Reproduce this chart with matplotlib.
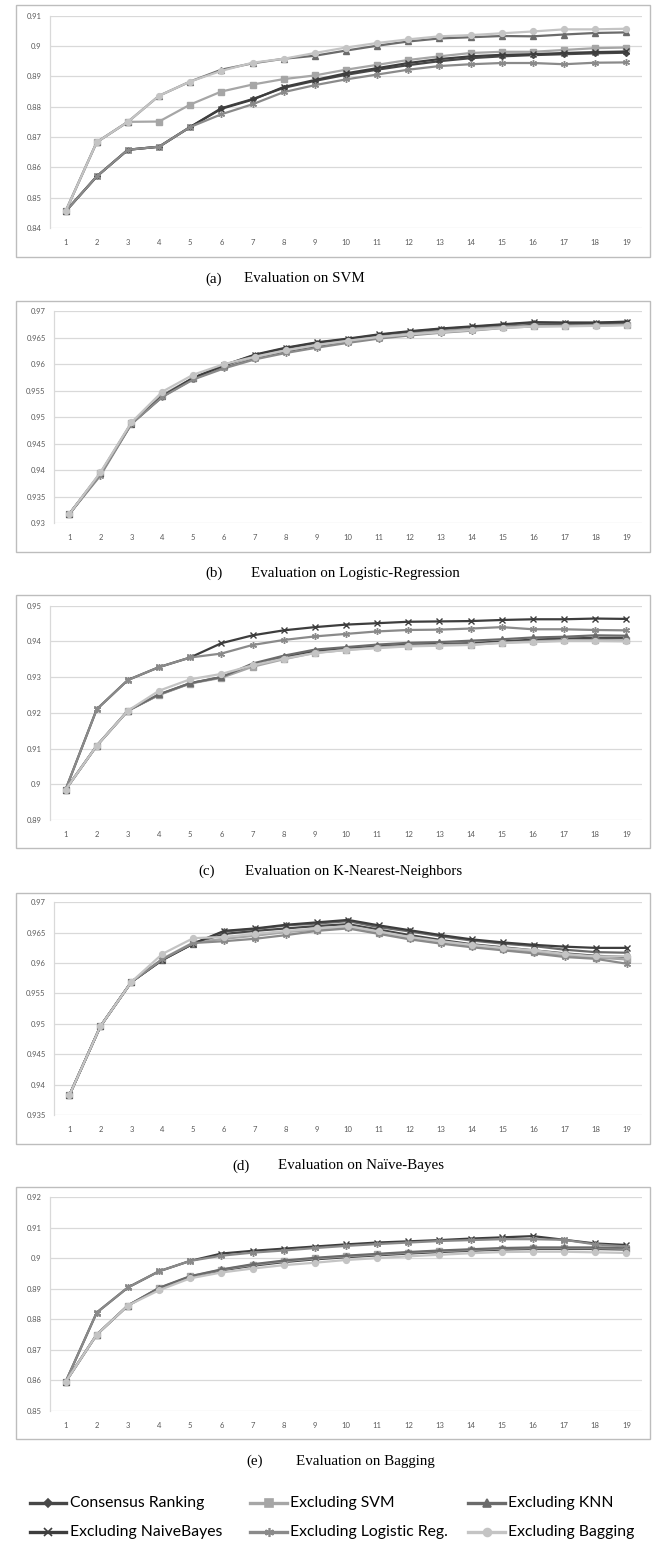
import matplotlib
matplotlib.use("Agg")
import matplotlib.pyplot as plt
from matplotlib.lines import Line2D
from matplotlib.patches import Rectangle

W, H, DPI = 654, 1548, 100

x_vals = list(range(1, 20))
series_names = ["Consensus Ranking", "Excluding SVM", "Excluding KNN",
                "Excluding NaiveBayes", "Excluding Logistic Reg.", "Excluding Bagging"]

# (a) Evaluation on SVM
a_consensus = [0.8455, 0.8570, 0.8658, 0.8668, 0.8733, 0.8795, 0.8825, 0.8862, 0.8885, 0.8905, 0.8922, 0.8937, 0.8950, 0.8960, 0.8966, 0.8970, 0.8973, 0.8976, 0.8978]
a_svm = [0.8455, 0.8683, 0.8750, 0.8751, 0.8807, 0.8850, 0.8873, 0.8891, 0.8903, 0.8922, 0.8938, 0.8954, 0.8966, 0.8977, 0.8981, 0.8981, 0.8987, 0.8993, 0.8995]
a_knn = [0.8455, 0.8683, 0.8750, 0.8836, 0.8883, 0.8922, 0.8943, 0.8958, 0.8968, 0.8985, 0.9001, 0.9015, 0.9025, 0.9029, 0.9033, 0.9032, 0.9038, 0.9043, 0.9045]
a_nb = [0.8455, 0.8570, 0.8658, 0.8668, 0.8733, 0.8793, 0.8823, 0.8865, 0.8888, 0.8910, 0.8927, 0.8944, 0.8957, 0.8966, 0.8971, 0.8973, 0.8977, 0.8980, 0.8982]
a_lr = [0.8455, 0.8570, 0.8658, 0.8668, 0.8733, 0.8775, 0.8808, 0.8848, 0.8871, 0.8890, 0.8906, 0.8922, 0.8934, 0.8940, 0.8944, 0.8944, 0.8940, 0.8945, 0.8946]
a_bag = [0.8455, 0.8683, 0.8750, 0.8836, 0.8883, 0.8918, 0.8945, 0.8958, 0.8977, 0.8995, 0.9010, 0.9022, 0.9032, 0.9036, 0.9042, 0.9048, 0.9055, 0.9055, 0.9057]

# (b) Evaluation on Logistic-Regression
b_consensus = [0.9318, 0.9393, 0.9488, 0.9539, 0.9572, 0.9594, 0.9612, 0.9624, 0.9634, 0.9643, 0.9650, 0.9656, 0.9661, 0.9665, 0.9670, 0.9674, 0.9675, 0.9676, 0.9677]
b_svm = [0.9318, 0.9395, 0.9489, 0.9542, 0.9574, 0.9597, 0.9613, 0.9626, 0.9636, 0.9644, 0.9651, 0.9657, 0.9662, 0.9666, 0.9670, 0.9672, 0.9672, 0.9673, 0.9674]
b_knn = [0.9318, 0.9394, 0.9488, 0.9540, 0.9574, 0.9598, 0.9617, 0.9630, 0.9640, 0.9647, 0.9655, 0.9661, 0.9666, 0.9670, 0.9674, 0.9678, 0.9678, 0.9678, 0.9679]
b_nb = [0.9318, 0.9393, 0.9488, 0.9539, 0.9574, 0.9598, 0.9618, 0.9631, 0.9641, 0.9648, 0.9656, 0.9662, 0.9667, 0.9671, 0.9675, 0.9679, 0.9678, 0.9678, 0.9680]
b_lr = [0.9318, 0.9390, 0.9487, 0.9538, 0.9571, 0.9592, 0.9609, 0.9621, 0.9631, 0.9640, 0.9648, 0.9654, 0.9659, 0.9663, 0.9668, 0.9671, 0.9672, 0.9673, 0.9674]
b_bag = [0.9318, 0.9396, 0.9490, 0.9548, 0.9580, 0.9600, 0.9614, 0.9626, 0.9636, 0.9644, 0.9651, 0.9656, 0.9660, 0.9664, 0.9668, 0.9671, 0.9671, 0.9672, 0.9673]

# (c) Evaluation on K-Nearest-Neighbors
c_consensus = [0.8985, 0.9108, 0.9206, 0.9251, 0.9283, 0.9300, 0.9333, 0.9355, 0.9373, 0.9380, 0.9386, 0.9391, 0.9393, 0.9395, 0.9400, 0.9405, 0.9408, 0.9410, 0.9410]
c_svm = [0.8985, 0.9108, 0.9206, 0.9250, 0.9282, 0.9298, 0.9329, 0.9350, 0.9368, 0.9376, 0.9383, 0.9388, 0.9390, 0.9391, 0.9396, 0.9400, 0.9403, 0.9404, 0.9403]
c_knn = [0.8985, 0.9108, 0.9206, 0.9252, 0.9283, 0.9300, 0.9338, 0.9360, 0.9377, 0.9384, 0.9391, 0.9396, 0.9398, 0.9402, 0.9406, 0.9411, 0.9413, 0.9417, 0.9416]
c_nb = [0.8985, 0.9210, 0.9292, 0.9328, 0.9355, 0.9395, 0.9417, 0.9431, 0.9440, 0.9447, 0.9451, 0.9455, 0.9456, 0.9457, 0.9460, 0.9462, 0.9462, 0.9464, 0.9463]
c_lr = [0.8985, 0.9210, 0.9292, 0.9328, 0.9355, 0.9366, 0.9390, 0.9404, 0.9414, 0.9421, 0.9428, 0.9432, 0.9433, 0.9436, 0.9440, 0.9434, 0.9434, 0.9432, 0.9431]
c_bag = [0.8985, 0.9108, 0.9206, 0.9262, 0.9294, 0.9309, 0.9333, 0.9352, 0.9367, 0.9376, 0.9381, 0.9386, 0.9388, 0.9390, 0.9396, 0.9398, 0.9401, 0.9401, 0.9400]

# (d) Evaluation on Naive-Bayes
d_consensus = [0.9383, 0.9496, 0.9569, 0.9606, 0.9632, 0.9648, 0.9653, 0.9657, 0.9661, 0.9664, 0.9655, 0.9646, 0.9638, 0.9631, 0.9626, 0.9621, 0.9616, 0.9612, 0.9610]
d_svm = [0.9383, 0.9496, 0.9569, 0.9607, 0.9634, 0.9640, 0.9645, 0.9651, 0.9655, 0.9659, 0.9650, 0.9641, 0.9634, 0.9628, 0.9623, 0.9618, 0.9613, 0.9609, 0.9606]
d_knn = [0.9383, 0.9496, 0.9569, 0.9605, 0.9632, 0.9652, 0.9656, 0.9662, 0.9665, 0.9669, 0.9659, 0.9652, 0.9644, 0.9637, 0.9632, 0.9628, 0.9622, 0.9618, 0.9617]
d_nb = [0.9383, 0.9496, 0.9569, 0.9605, 0.9632, 0.9653, 0.9657, 0.9663, 0.9667, 0.9671, 0.9662, 0.9654, 0.9646, 0.9639, 0.9634, 0.9630, 0.9627, 0.9625, 0.9625]
d_lr = [0.9383, 0.9496, 0.9569, 0.9606, 0.9633, 0.9636, 0.9640, 0.9646, 0.9653, 0.9657, 0.9648, 0.9639, 0.9632, 0.9626, 0.9621, 0.9616, 0.9610, 0.9607, 0.9599]
d_bag = [0.9383, 0.9496, 0.9569, 0.9615, 0.9641, 0.9643, 0.9648, 0.9653, 0.9657, 0.9661, 0.9652, 0.9643, 0.9636, 0.9630, 0.9625, 0.9621, 0.9615, 0.9611, 0.9611]

# (e) Evaluation on Bagging
e_consensus = [0.8595, 0.8750, 0.8845, 0.8901, 0.8939, 0.8960, 0.8975, 0.8987, 0.8996, 0.9003, 0.9009, 0.9015, 0.9020, 0.9024, 0.9028, 0.9030, 0.9030, 0.9030, 0.9028]
e_svm = [0.8595, 0.8750, 0.8845, 0.8902, 0.8940, 0.8962, 0.8978, 0.8990, 0.8999, 0.9006, 0.9012, 0.9018, 0.9023, 0.9027, 0.9031, 0.9033, 0.9033, 0.9033, 0.9031]
e_knn = [0.8595, 0.8750, 0.8845, 0.8903, 0.8941, 0.8963, 0.8980, 0.8992, 0.9001, 0.9008, 0.9014, 0.9020, 0.9025, 0.9029, 0.9033, 0.9035, 0.9035, 0.9035, 0.9034]
e_nb = [0.8595, 0.8822, 0.8904, 0.8957, 0.8991, 0.9015, 0.9024, 0.9031, 0.9038, 0.9045, 0.9051, 0.9055, 0.9059, 0.9064, 0.9068, 0.9072, 0.9060, 0.9048, 0.9043]
e_lr = [0.8595, 0.8822, 0.8904, 0.8957, 0.8991, 0.9008, 0.9018, 0.9025, 0.9033, 0.9040, 0.9046, 0.9051, 0.9056, 0.9059, 0.9062, 0.9062, 0.9060, 0.9045, 0.9038]
e_bag = [0.8595, 0.8750, 0.8845, 0.8895, 0.8934, 0.8953, 0.8966, 0.8977, 0.8985, 0.8994, 0.9000, 0.9006, 0.9011, 0.9016, 0.9020, 0.9021, 0.9021, 0.9019, 0.9017]

captions = ["(a)", "(b)", "(c)", "(d)", "(e)"]
caption_texts = ["Evaluation on SVM", "Evaluation on Logistic-Regression",
                 "Evaluation on K-Nearest-Neighbors", "Evaluation on Na\u00efve-Bayes",
                 "Evaluation on Bagging"]
y_ranges = [(0.84, 0.91, 0.01), (0.93, 0.97, 0.005), (0.89, 0.95, 0.01),
            (0.935, 0.97, 0.005), (0.85, 0.92, 0.01)]

panels = [
    [a_consensus, a_svm, a_knn, a_nb, a_lr, a_bag],
    [b_consensus, b_svm, b_knn, b_nb, b_lr, b_bag],
    [c_consensus, c_svm, c_knn, c_nb, c_lr, c_bag],
    [d_consensus, d_svm, d_knn, d_nb, d_lr, d_bag],
    [e_consensus, e_svm, e_knn, e_nb, e_lr, e_bag],
]

# styles
colors = ["#474747", "#a6a6a6", "#6b6b6b", "#3d3d3d", "#8a8a8a", "#c4c4c4"]
markers = ["D", "s", "^", "x", (6, 2, 0), "o"]
msizes = [3.0, 4.2, 4.2, 4.5, 5.0, 4.2]

# layout in pixels: (plot_left, plot_top, plot_bottom, box_top, box_bottom, cap_y, cap_lx, cap_tx)
layout = [
    (50, 15.7, 228.0, 5.0, 257.0, 279, 205, 244),
    (54, 311.0, 523.3, 300.7, 552.3, 573, 205, 251),
    (50, 605.7, 820.0, 595.0, 848.0, 871, 198, 245),
    (54, 902.3, 1115.0, 892.7, 1144.0, 1166, 232, 278),
    (50, 1197.0, 1411.0, 1187.0, 1439.0, 1461, 246, 296),
]
plot_right = 642
box_left, box_right = 16, 650

fig = plt.figure(figsize=(W / DPI, H / DPI), dpi=DPI)
fig.patch.set_facecolor("white")

tick_font = "Lato"
grid_col = "#d9d9d9"

for pi, (data, (pl, pt, pb, bt, bb, cy, clx, ctx)) in enumerate(zip(panels, layout)):
    fig.add_artist(Rectangle((box_left / W, 1 - bb / H), (box_right - box_left) / W, (bb - bt) / H,
                             transform=fig.transFigure, fill=False, edgecolor="#bdbdbd", lw=1.0))
    ax = fig.add_axes([pl / W, 1 - pb / H, (plot_right - pl) / W, (pb - pt) / H])
    lo, hi, st = y_ranges[pi]
    n = int(round((hi - lo) / st))
    ticks = [round(lo + i * st, 4) for i in range(n + 1)]
    ax.set_ylim(lo, hi)
    ax.set_yticks(ticks)
    ax.set_yticklabels([f"{t:g}" for t in ticks])
    ax.set_xlim(0.5, 19.5)
    ax.set_xticks(x_vals)
    ax.set_xticklabels([str(v) for v in x_vals])
    ax.grid(axis="y", color=grid_col, lw=0.9)
    ax.set_axisbelow(True)
    for s in ["top", "right", "bottom"]:
        ax.spines[s].set_visible(False)
    ax.spines["left"].set_color(grid_col)
    ax.spines["left"].set_linewidth(0.9)
    ax.tick_params(axis="both", length=0, labelsize=5.5, labelcolor="#595959")
    ax.tick_params(axis="y", pad=6)
    ax.tick_params(axis="x", pad=8)
    for lab in ax.get_xticklabels() + ax.get_yticklabels():
        lab.set_fontfamily(tick_font)
    for si, ys in enumerate(data):
        ax.plot(x_vals, ys, color=colors[si], lw=1.6, marker=markers[si], ms=msizes[si],
                mfc=colors[si], mec=colors[si], mew=1.0, zorder=3 + si, clip_on=False)
    fig.text(clx / W, 1 - cy / H, captions[pi], ha="left", va="center",
             fontfamily="Liberation Serif", fontsize=10.8, color="#000000")
    fig.text(ctx / W, 1 - cy / H, caption_texts[pi], ha="left", va="center",
             fontfamily="Liberation Serif", fontsize=10.8, color="#000000")

# legend
leg_cols = [(30, 66, 70), (250, 287, 290), (468, 505, 508)]
leg_rows = [1503, 1532]
for i, name in enumerate(series_names):
    r, c = divmod(i, 3)
    x0, x1, tx = leg_cols[c]
    yy = 1 - leg_rows[r] / H
    fig.add_artist(Line2D([x0 / W, x1 / W], [yy, yy], transform=fig.transFigure,
                          color=colors[i], lw=2.4))
    fig.add_artist(Line2D([(x0 + x1) / 2 / W], [yy], transform=fig.transFigure,
                          color=colors[i], marker=markers[i], ms=msizes[i] + 1.5,
                          mfc=colors[i], mec=colors[i], mew=1.2, lw=0))
    fig.text(tx / W, yy, name, ha="left", va="center", fontfamily="Lato",
             fontsize=11.3, color="#000000")

fig.savefig("out.png", dpi=DPI, facecolor="white")
